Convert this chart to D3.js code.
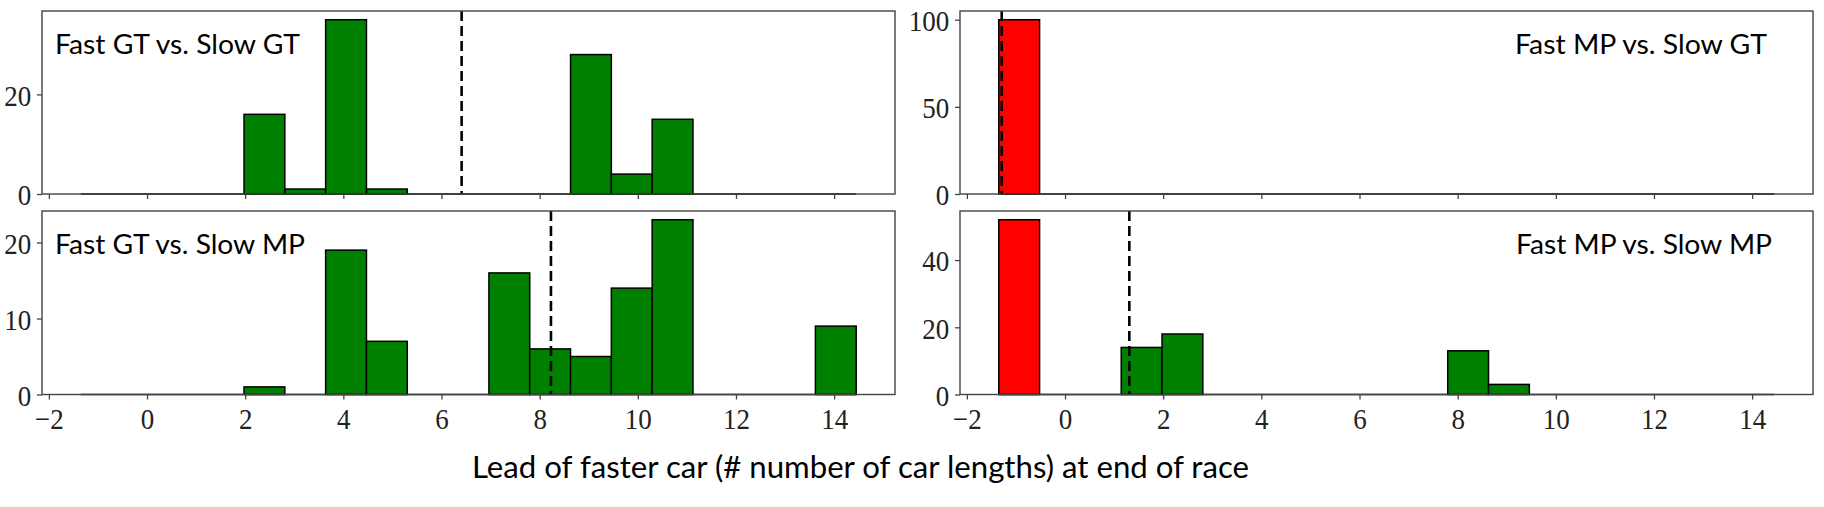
<!DOCTYPE html>
<html>
<head>
<meta charset="utf-8">
<script src="https://cdn.jsdelivr.net/npm/d3@7"></script>
<style>
  body { margin: 0; background: #fff; }
  .tick text { font-family: "Liberation Serif", serif; font-size: 30px; fill: #222; }
  .panel-label, .x-label { font-family: Lato, "Noto Sans", sans-serif; fill: #000; }
</style>
</head>
<body>
<svg id="chart" width="1824" height="507"></svg>
<script>
// histogram bins: 19 equal bins from -1.35 to 14.45
const binLo = -1.35;
const binHi = 14.45;
const binCount = 19;

const panelNames = ["Fast GT vs. Slow GT", "Fast GT vs. Slow MP", "Fast MP vs. Slow GT", "Fast MP vs. Slow MP"];

const countsGtGt = [0, 0, 0, 0, 16, 1, 35, 1, 0, 0, 0, 0, 28, 4, 15, 0, 0, 0, 0];
const countsGtMp = [0, 0, 0, 0, 1, 0, 19, 7, 0, 0, 16, 6, 5, 14, 23, 0, 0, 0, 9];
const countsMpGt = [100, 0, 0, 0, 0, 0, 0, 0, 0, 0, 0, 0, 0, 0, 0, 0, 0, 0, 0];
const countsMpMp = [52, 0, 0, 14, 18, 0, 0, 0, 0, 0, 0, 13, 3, 0, 0, 0, 0, 0, 0];

const meanLeads = [6.41, 8.23, -1.29, 1.31];

const xTicks = [-2, 0, 2, 4, 6, 8, 10, 12, 14];
const yTicksGtGt = [0, 20];
const yTicksGtMp = [0, 10, 20];
const yTicksMpGt = [0, 50, 100];
const yTicksMpMp = [0, 20, 40];

const xLabel = "Lead of faster car (# number of car lengths) at end of race";

const svg = d3.select("#chart");
const binW = (binHi - binLo) / binCount;
const pad = (binHi - binLo) * 0.05;

const panels = [
  { name: panelNames[0], counts: countsGtGt, yTicks: yTicksGtGt, mean: meanLeads[0], x0: 42, x1: 895, y0: 11, y1: 194, showX: false, lx: 55, lw: 245 },
  { name: panelNames[1], counts: countsGtMp, yTicks: yTicksGtMp, mean: meanLeads[1], x0: 42, x1: 895, y0: 211, y1: 394.5, showX: true, lx: 55, lw: 250 },
  { name: panelNames[2], counts: countsMpGt, yTicks: yTicksMpGt, mean: meanLeads[2], x0: 960, x1: 1813, y0: 11, y1: 194, showX: false, lx: 1515, lw: 252 },
  { name: panelNames[3], counts: countsMpMp, yTicks: yTicksMpMp, mean: meanLeads[3], x0: 960, x1: 1813, y0: 211, y1: 394.5, showX: true, lx: 1516, lw: 256 }
];

panels.forEach(p => {
  const x = d3.scaleLinear().domain([binLo - pad, binHi + pad]).range([p.x0, p.x1]);
  const yMax = d3.max(p.counts) * 1.05;
  const y = d3.scaleLinear().domain([0, yMax]).range([p.y1, p.y0]);
  const g = svg.append("g");

  const bins = p.counts.map((c, i) => ({ lo: binLo + i * binW, hi: binLo + (i + 1) * binW, count: c }));

  // zero-height bars show up as a line along the base
  g.append("line")
    .attr("x1", x(binLo)).attr("x2", x(binHi))
    .attr("y1", y(0)).attr("y2", y(0))
    .attr("stroke", "#000").attr("stroke-width", 1.6);

  g.selectAll("rect.bar")
    .data(bins.filter(d => d.count > 0))
    .join("rect")
    .attr("class", "bar")
    .attr("x", d => x(d.lo))
    .attr("y", d => y(d.count))
    .attr("width", d => x(d.hi) - x(d.lo))
    .attr("height", d => y(0) - y(d.count))
    .attr("fill", d => d.hi <= 0 ? "#ff0000" : "#008000")
    .attr("stroke", "#000")
    .attr("stroke-width", 1.5);

  g.append("line")
    .attr("x1", x(p.mean)).attr("x2", x(p.mean))
    .attr("y1", p.y0).attr("y2", p.y1)
    .attr("stroke", "#000").attr("stroke-width", 2.6)
    .attr("stroke-dasharray", "10,5");

  g.append("rect")
    .attr("x", p.x0).attr("y", p.y0)
    .attr("width", p.x1 - p.x0).attr("height", p.y1 - p.y0)
    .attr("fill", "none").attr("stroke", "#444").attr("stroke-width", 1.4);

  const xAxis = g.append("g")
    .attr("transform", `translate(0,${p.y1})`)
    .call(d3.axisBottom(x).tickValues(xTicks).tickSize(5).tickPadding(6)
      .tickFormat(p.showX ? (d => d < 0 ? "\u2212" + Math.abs(d) : d) : () => ""));
  xAxis.select(".domain").remove();
  xAxis.selectAll(".tick line").attr("stroke", "#444").attr("stroke-width", 1.3);
  xAxis.selectAll(".tick text").attr("transform", "scale(0.9,1)").attr("dy", "0.8em");

  const yAxis = g.append("g")
    .attr("transform", `translate(${p.x0},0)`)
    .call(d3.axisLeft(y).tickValues(p.yTicks).tickSize(5).tickPadding(7));
  yAxis.select(".domain").remove();
  yAxis.selectAll(".tick line").attr("stroke", "#444").attr("stroke-width", 1.3);
  yAxis.selectAll(".tick text").attr("transform", "scale(0.9,1)").attr("dy", "0.36em");

  g.append("text")
    .attr("class", "panel-label")
    .attr("x", p.lx).attr("y", p.y0 + 43)
    .attr("font-size", 26)
    .attr("textLength", p.lw).attr("lengthAdjust", "spacingAndGlyphs")
    .text(p.name);
});

svg.append("text")
  .attr("class", "x-label")
  .attr("x", 472).attr("y", 478)
  .attr("font-size", 30)
  .attr("textLength", 777).attr("lengthAdjust", "spacingAndGlyphs")
  .text(xLabel);
</script>
</body>
</html>
